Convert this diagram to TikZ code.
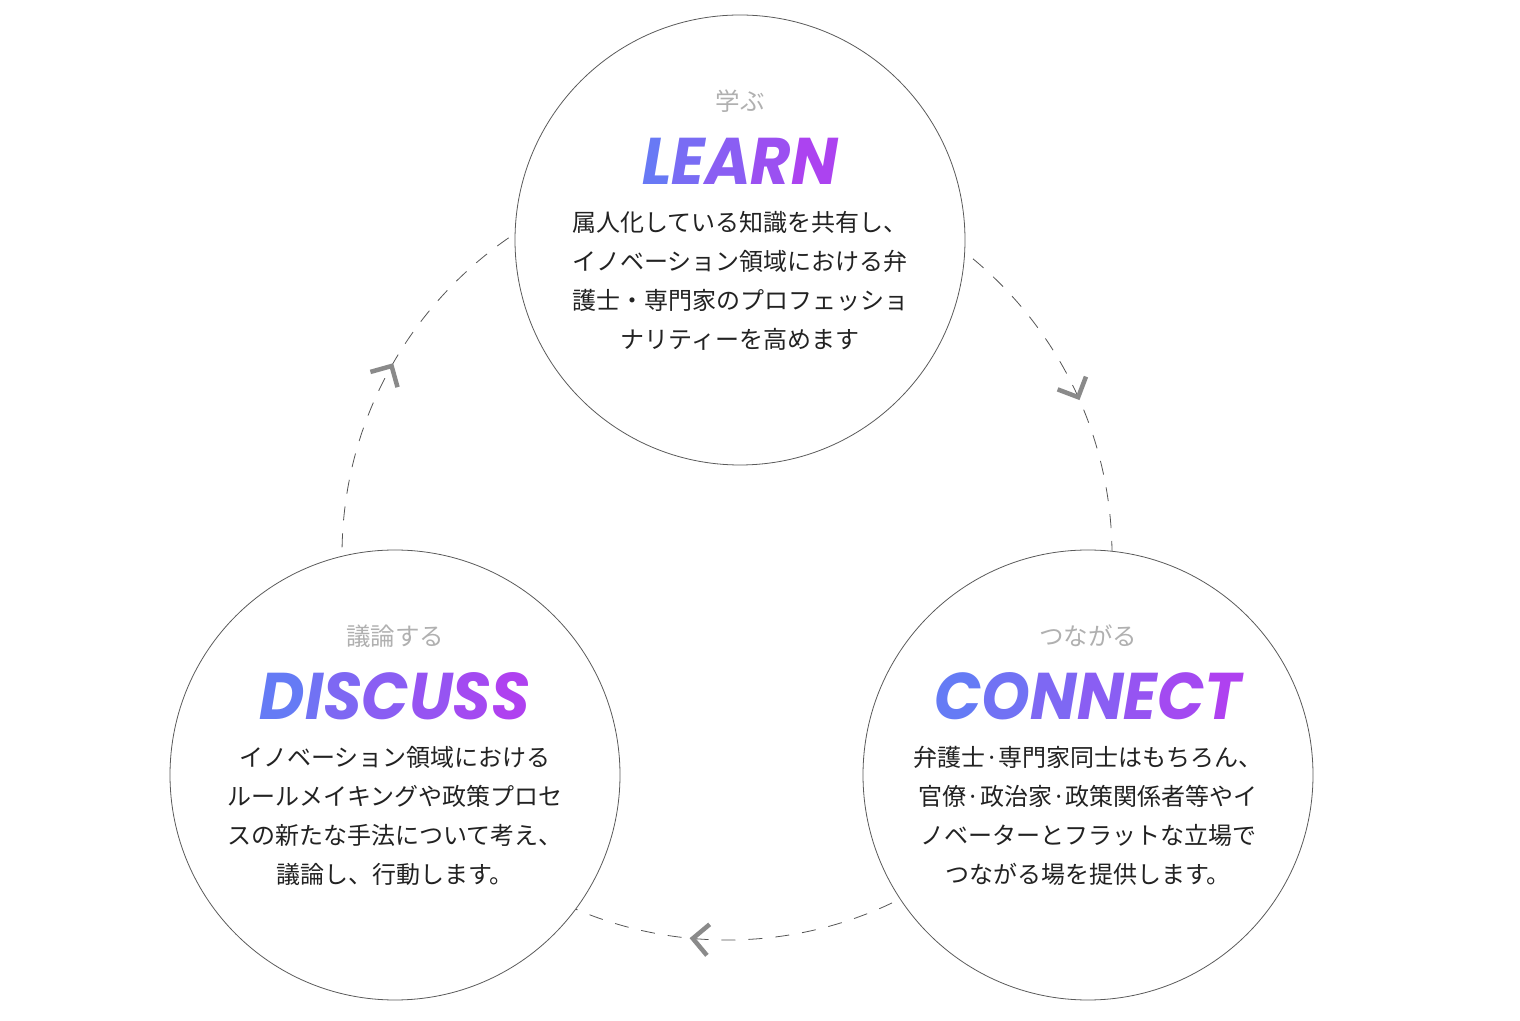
\documentclass[tikz,border=0pt]{standalone}
\usepackage{fontspec}
\usepackage{xcolor}
\usepackage{tikz}
\usetikzlibrary{positioning,calc}
\newfontfamily\jpfont{Noto Sans CJK JP}
\newfontfamily\titlefont{Poppins}
\definecolor{gradL}{RGB}{95,128,245}
\definecolor{gradR}{RGB}{181,60,240}
\definecolor{ringgray}{RGB}{90,90,90}
\definecolor{dashgray}{RGB}{85,85,85}
\definecolor{chevgray}{RGB}{138,138,138}
\definecolor{taggray}{RGB}{176,176,176}
\definecolor{bodyblack}{RGB}{34,34,34}
\newcommand{\shade}[2]{\textcolor{gradR!#1!gradL}{#2}}
\newcommand{\squeeze}[1]{\scalebox{0.94}[1]{#1}}
\tikzset{
  stage/.style={circle,draw=ringgray,line width=0.8pt,fill=white,minimum size=450pt,inner sep=0pt},
  tag/.style={font=\jpfont\fontsize{24.5}{24.5}\selectfont,text=taggray},
  heading/.style={anchor=base,font=\titlefont\bfseries\itshape\fontsize{66}{66}\selectfont},
  blurb/.style={font=\jpfont\fontsize{24}{39}\selectfont,text=bodyblack,align=center},
  loopline/.style={draw=dashgray,line width=0.8pt,dash pattern=on 14pt off 13pt},
  turn/.style={draw=chevgray,line width=4.5pt,miter limit=4}
}

\begin{document}
\begin{tikzpicture}[x=1pt,y=1pt]
\useasboundingbox (0,0) rectangle (1520,1020);
% dashed cycle and its chevrons
\coordinate (hub) at (727,465);
\draw[loopline] (hub) circle (385);
\foreach \a [count=\i] in {150.6,24.2,264.9} {
  \coordinate (tip\i) at ($(hub)+(\a:385)$);
  \draw[turn] ($(tip\i)+(\a+135:22)$) -- (tip\i) -- ($(tip\i)+(\a+45:22)$);
}
% the three stages
\node[stage] (learn) at (740,780) {};
\node[stage] (discuss) at (395,245) {};
\node[stage] (connect) at (1088,245) {};

\node[tag] (learnTag) at ([yshift=139pt]learn) {学ぶ};
\node[heading] (learnHead) at ([yshift=55pt]learn) {\squeeze{\shade{10}{L}\shade{30}{E}\shade{50}{A}\shade{70}{R}\shade{90}{N}}};
\node[blurb] (learnText) at ([yshift=-41pt]learn) {属人化している知識を共有し、\\イノベーション領域における弁\\護士・専門家のプロフェッショ\\ナリティーを高めます};

\node[tag] (discussTag) at ([yshift=139pt]discuss) {議論する};
\node[heading] (discussHead) at ([yshift=55pt]discuss) {\squeeze{\shade{7}{D}\shade{21}{I}\shade{36}{S}\shade{50}{C}\shade{64}{U}\shade{79}{S}\shade{93}{S}}};
\node[blurb] (discussText) at ([yshift=-41pt]discuss) {イノベーション領域における\\ルールメイキングや政策プロセ\\スの新たな手法について考え、\\議論し、行動します。};

\node[tag] (connectTag) at ([yshift=139pt]connect) {つながる};
\node[heading] (connectHead) at ([yshift=55pt]connect) {\squeeze{\shade{7}{C}\shade{21}{O}\shade{36}{N}\shade{50}{N}\shade{64}{E}\shade{79}{C}\shade{93}{T}}};
\node[blurb] (connectText) at ([yshift=-41pt]connect) {弁護士·専門家同士はもちろん、\\官僚·政治家·政策関係者等やイ\\ノベーターとフラットな立場で\\つながる場を提供します。};
\end{tikzpicture}
\end{document}
